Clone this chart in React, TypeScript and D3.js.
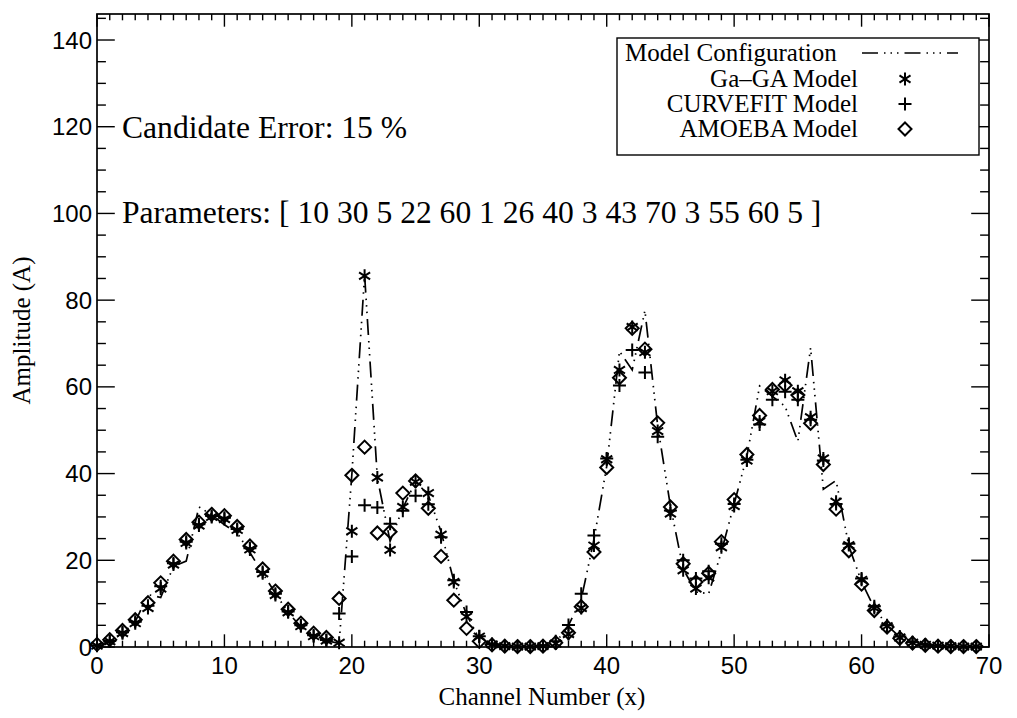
import React from "react";
import * as d3 from "d3";

// Channel index 0..69
const channels: number[] = Array.from({ length: 70 }, (_, i) => i);

// Model configuration curve (dash-dot-dot-dot line)
const modelConfig: number[] = [
  0.5, 1.2, 3.2, 5.8, 12.1, 11.4, 18.6, 19.8, 32.3, 30.5,
  28.2, 26.3, 21.8, 17.0, 12.4, 7.9, 4.7, 2.8, 1.5, 0.8,
  39.8, 85.8, 39.0, 24.4, 32.0, 38.2, 35.0, 26.6, 15.2, 7.5,
  1.9, 0.5, 0.2, 0.1, 0.1, 0.3, 1.0, 5.0, 11.0, 24.8,
  41.7, 68.2, 63.9, 77.6, 51.0, 32.5, 18.0, 12.7, 12.3, 22.0,
  33.0, 44.0, 60.2, 57.8, 55.5, 47.4, 69.0, 36.4, 38.4, 23.3,
  15.0, 9.0, 5.0, 2.3, 1.1, 0.5, 0.3, 0.2, 0.1, 0.1,
];

// Ga-GA fit (asterisks)
const gaGA: number[] = [
  0.3, 1.3, 3.2, 5.5, 9.0, 13.5, 19.0, 24.0, 28.0, 30.0,
  29.5, 27.0, 22.5, 17.0, 12.0, 8.0, 4.8, 2.5, 1.5, 1.0,
  26.7, 85.6, 39.1, 22.4, 32.3, 38.1, 35.5, 25.9, 15.0, 7.0,
  2.4, 0.6, 0.2, 0.1, 0.1, 0.2, 0.8, 3.0, 9.0, 23.4,
  43.3, 63.9, 73.8, 68.0, 49.8, 30.8, 17.7, 13.5, 16.0, 23.0,
  32.5, 43.0, 52.0, 59.0, 61.5, 59.0, 53.0, 43.5, 33.5, 23.5,
  15.5, 9.0, 4.8, 2.2, 1.0, 0.5, 0.3, 0.2, 0.1, 0.1,
];

// CURVEFIT fit (plus signs)
const curvefit: number[] = [
  0.4, 1.4, 3.4, 5.8, 9.5, 14.0, 19.3, 24.3, 28.3, 30.2,
  29.8, 27.2, 22.8, 17.3, 12.3, 8.2, 5.0, 2.7, 1.6, 7.7,
  20.9, 32.7, 32.2, 28.4, 31.4, 34.9, 32.9, 25.3, 15.4, 8.1,
  2.5, 0.7, 0.2, 0.1, 0.1, 0.3, 1.3, 5.1, 12.3, 25.7,
  43.5, 60.3, 68.5, 63.3, 48.5, 31.5, 20.0, 15.8, 17.5, 23.8,
  33.0, 43.2, 51.3, 57.0, 58.9, 57.0, 52.4, 43.0, 33.0, 23.8,
  15.8, 9.4, 5.0, 2.4, 1.1, 0.5, 0.3, 0.2, 0.1, 0.1,
];

// AMOEBA fit (diamonds)
const amoeba: number[] = [
  0.6, 1.7, 3.8, 6.3, 10.2, 14.8, 19.8, 24.8, 28.8, 30.6,
  30.3, 27.8, 23.3, 18.0, 12.9, 8.7, 5.5, 3.2, 2.2, 11.2,
  39.6, 46.1, 26.3, 26.6, 35.5, 38.3, 32.0, 20.9, 10.8, 4.3,
  1.3, 0.5, 0.2, 0.1, 0.1, 0.2, 1.0, 3.3, 9.3, 21.9,
  41.4, 62.1, 73.5, 68.7, 51.7, 32.3, 19.2, 15.0, 17.0, 24.3,
  34.0, 44.4, 53.4, 59.4, 60.4, 58.1, 51.6, 42.1, 31.8, 22.2,
  14.5, 8.4, 4.6, 2.0, 0.9, 0.4, 0.2, 0.1, 0.1, 0.1,
];

const xMajorTicks: number[] = [0, 10, 20, 30, 40, 50, 60, 70];
const yMajorTicks: number[] = [0, 20, 40, 60, 80, 100, 120, 140];

const legendLabels: string[] = ["Model Configuration", "Ga\u2013GA Model", "CURVEFIT Model", "AMOEBA Model"];

const candidateText = "Candidate Error: 15 %";
const parameterText = "Parameters: [ 10 30 5 22 60 1 26 40 3 43 70 3 55 60 5 ]";

const W = 1017;
const H = 718;
const left = 97;
const right = 989;
const top = 14;
const bottom = 647;

const SERIF = "'Liberation Serif', 'Times New Roman', serif";
const SANS = "'Liberation Sans', Arial, sans-serif";
const DASH = "16 6 1.5 5 1.5 5 1.5 6";

const asteriskPath = (r: number) => {
  const dx = r * 0.85;
  const dy = r * 0.55;
  return `M0,${-r}L0,${r}M${-dx},${-dy}L${dx},${dy}M${-dx},${dy}L${dx},${-dy}`;
};
const plusPath = (r: number) => `M${-r},0L${r},0M0,${-r}L0,${r}`;
const diamondPath = (r: number) => `M0,${-r}L${r},0L0,${r}L${-r},0Z`;

export default function App() {
  const x = d3.scaleLinear().domain([0, 70]).range([left, right]);
  const y = d3.scaleLinear().domain([0, 146]).range([bottom, top]);

  const line = d3
    .line<number>()
    .x((_, i) => x(channels[i]))
    .y((d) => y(d));

  const xMinor = d3.range(0, 71, 1).filter((v) => v % 10 !== 0);
  const yMinor = d3.range(0, 146, 5).filter((v) => v % 20 !== 0);

  const xMajLen = 12.7;
  const xMinLen = 6.3;
  const yMajLen = 17.8;
  const yMinLen = 8.9;

  const lg = { x0: 617, y0: 38, x1: 979, y1: 155 };
  const rowY = [53, 79, 104, 129];
  const textRight = 858;
  const symX = 905;

  return (
    <svg
      width={W}
      height={H}
      viewBox={`0 0 ${W} ${H}`}
      style={{ display: "block", position: "absolute", left: 0, top: 0, background: "#fff" }}
    >
      <rect x={0} y={0} width={W} height={H} fill="#fff" />
      {/* frame */}
      <rect x={left} y={top} width={right - left} height={bottom - top} fill="none" stroke="#000" strokeWidth={1.7} />

      {/* ticks on all four sides */}
      <g stroke="#000" strokeWidth={1.4}>
        {xMajorTicks.map((t) => (
          <g key={`xm${t}`}>
            <line x1={x(t)} x2={x(t)} y1={bottom} y2={bottom - xMajLen} />
            <line x1={x(t)} x2={x(t)} y1={top} y2={top + xMajLen} />
          </g>
        ))}
        {xMinor.map((t) => (
          <g key={`xn${t}`}>
            <line x1={x(t)} x2={x(t)} y1={bottom} y2={bottom - xMinLen} />
            <line x1={x(t)} x2={x(t)} y1={top} y2={top + xMinLen} />
          </g>
        ))}
        {yMajorTicks.map((t) => (
          <g key={`ym${t}`}>
            <line x1={left} x2={left + yMajLen} y1={y(t)} y2={y(t)} />
            <line x1={right} x2={right - yMajLen} y1={y(t)} y2={y(t)} />
          </g>
        ))}
        {yMinor.map((t) => (
          <g key={`yn${t}`}>
            <line x1={left} x2={left + yMinLen} y1={y(t)} y2={y(t)} />
            <line x1={right} x2={right - yMinLen} y1={y(t)} y2={y(t)} />
          </g>
        ))}
      </g>

      {/* tick labels */}
      <g fontFamily={SANS} fontSize={24} fill="#000">
        {xMajorTicks.map((t) => (
          <text key={`xl${t}`} x={x(t)} y={674} textAnchor="middle">
            {t}
          </text>
        ))}
        {yMajorTicks.map((t) => (
          <text key={`yl${t}`} x={92} y={y(t) + 8.5} textAnchor="end">
            {t}
          </text>
        ))}
      </g>

      {/* axis titles */}
      <text x={542} y={705} textAnchor="middle" fontFamily={SERIF} fontSize={25} fill="#000">
        Channel Number (x)
      </text>
      <text
        transform={`translate(30, ${(top + bottom) / 2}) rotate(-90)`}
        textAnchor="middle"
        fontFamily={SERIF}
        fontSize={25}
        fill="#000"
      >
        Amplitude (A)
      </text>

      {/* annotations */}
      <text x={122} y={138} fontFamily={SERIF} fontSize={31.6} fill="#000">
        {candidateText}
      </text>
      <text x={122} y={223} fontFamily={SERIF} fontSize={31.6} fill="#000">
        {parameterText}
      </text>

      {/* model curve */}
      <path d={line(modelConfig) ?? ""} fill="none" stroke="#000" strokeWidth={1.7} strokeDasharray={DASH} />

      {/* markers */}
      <g fill="none" stroke="#000" strokeWidth={2}>
        {gaGA.map((v, i) => (
          <path key={`a${i}`} d={asteriskPath(6.5)} transform={`translate(${x(channels[i])},${y(v)})`} />
        ))}
        {curvefit.map((v, i) => (
          <path key={`p${i}`} d={plusPath(6.5)} transform={`translate(${x(channels[i])},${y(v)})`} />
        ))}
        {amoeba.map((v, i) => (
          <path key={`d${i}`} d={diamondPath(6.5)} transform={`translate(${x(channels[i])},${y(v)})`} />
        ))}
      </g>

      {/* legend */}
      <rect x={lg.x0} y={lg.y0} width={lg.x1 - lg.x0} height={lg.y1 - lg.y0} fill="#fff" stroke="#000" strokeWidth={1.4} />
      <g fontFamily={SERIF} fontSize={25} fill="#000">
        <text x={625} y={rowY[0] + 8}>{legendLabels[0]}</text>
        {legendLabels.slice(1).map((s, i) => (
          <text key={s} x={textRight} y={rowY[i + 1] + 8} textAnchor="end">
            {s}
          </text>
        ))}
      </g>
      <line x1={862} x2={958} y1={rowY[0]} y2={rowY[0]} stroke="#000" strokeWidth={1.7} strokeDasharray={DASH} />
      <g fill="none" stroke="#000" strokeWidth={2}>
        <path d={asteriskPath(6.5)} transform={`translate(${symX},${rowY[1]})`} />
        <path d={plusPath(6.5)} transform={`translate(${symX},${rowY[2]})`} />
        <path d={diamondPath(6.5)} transform={`translate(${symX},${rowY[3]})`} />
      </g>
    </svg>
  );
}
